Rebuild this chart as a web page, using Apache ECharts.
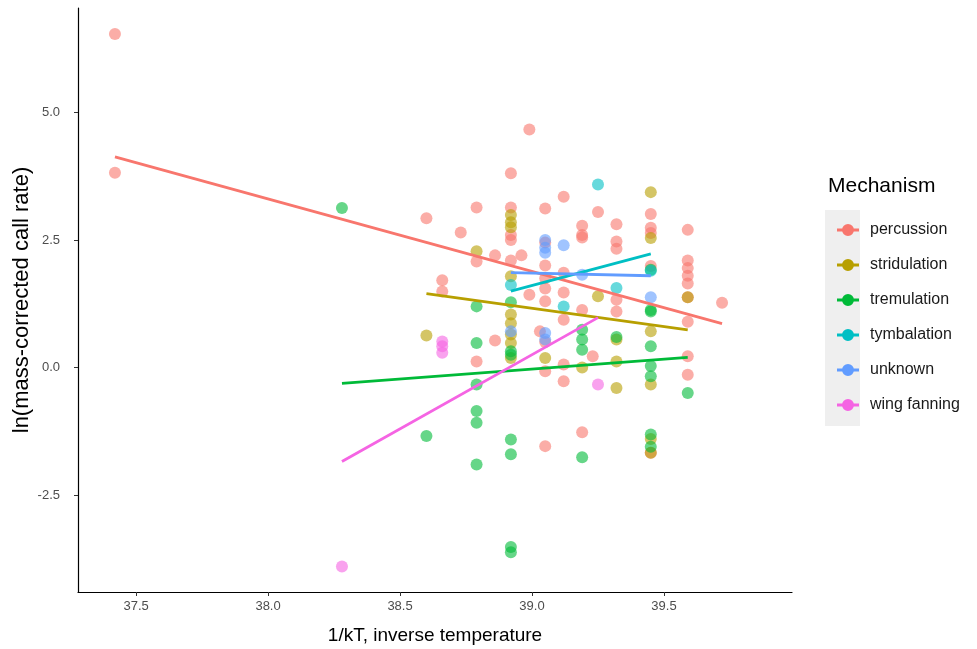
<!DOCTYPE html>
<html>
<head>
<meta charset="utf-8">
<script src="https://cdn.jsdelivr.net/npm/echarts@6/dist/echarts.min.js"></script>
<style>html,body{margin:0;padding:0;background:#fff}#c{width:977px;height:649px}</style>
</head>
<body>
<div id="c"></div>
<script>
const mechanisms = ['percussion','stridulation','tremulation','tymbalation','unknown','wing fanning'];
const colors = ['#F8766D','#B79F00','#00BA38','#00BFC4','#619CFF','#F564E3'];
const xTicks = [37.5, 38.0, 38.5, 39.0, 39.5];
const yTicks = [-2.5, 0.0, 2.5, 5.0];

const percussion = [[37.42,6.54],[37.42,3.82],[38.6,2.93],[38.66,1.71],[38.66,1.49],[38.73,2.65],
 [38.79,3.14],[38.79,2.08],[38.79,0.12],[38.86,2.2],[38.86,0.53],
 [38.92,3.81],[38.92,3.14],[38.92,2.5],[38.92,2.6],[38.92,2.1],[38.96,2.2],[38.99,4.67],[38.99,1.43],
 [39.03,0.71],[39.05,3.12],[39.05,2.45],[39.05,2.0],[39.05,1.75],[39.05,1.55],[39.05,1.3],[39.05,0.5],[39.05,-0.07],[39.05,-1.54],
 [39.12,3.35],[39.12,1.86],[39.12,1.47],[39.12,0.94],[39.12,0.06],[39.12,-0.27],
 [39.19,2.78],[39.19,2.6],[39.19,2.55],[39.19,1.13],[39.19,-1.27],[39.23,0.22],[39.25,3.05],
 [39.32,2.81],[39.32,2.47],[39.32,2.33],[39.32,1.33],[39.32,1.1],
 [39.45,3.01],[39.45,2.74],[39.45,2.64],[39.45,1.99],[39.45,-1.67],
 [39.59,2.7],[39.59,2.1],[39.59,1.95],[39.59,1.8],[39.59,1.65],[39.59,1.38],[39.59,0.9],[39.59,0.22],[39.59,-0.14],
 [39.72,1.27]];
const stridulation = [[38.6,0.63],[38.79,2.28],[38.92,2.99],[38.92,2.85],[38.92,2.75],[38.92,1.79],[38.92,1.04],
 [38.92,0.87],[38.92,0.65],[38.92,0.48],[38.92,0.19],[39.05,0.19],[39.19,0.0],[39.25,1.4],
 [39.32,0.55],[39.32,0.12],[39.32,-0.4],[39.45,3.44],[39.45,2.54],[39.45,0.71],[39.45,-0.33],[39.45,-1.4],[39.45,-1.67],[39.59,1.38]];
const tremulation = [[38.28,3.13],[38.6,-1.34],[38.79,1.2],[38.79,0.48],[38.79,-0.33],[38.79,-0.85],[38.79,-1.08],[38.79,-1.9],
 [38.92,1.28],[38.92,0.32],[38.92,0.25],[38.92,-1.41],[38.92,-1.7],[38.92,-3.52],[38.92,-3.62],
 [39.19,0.74],[39.19,0.55],[39.19,0.35],[39.19,-1.76],[39.32,0.6],
 [39.45,1.92],[39.45,1.13],[39.45,1.1],[39.45,0.42],[39.45,0.03],[39.45,-0.17],[39.45,-1.31],[39.45,-1.55],[39.59,-0.5]];
const tymbalation = [[38.92,1.62],[39.12,1.2],[39.25,3.59],[39.32,1.56],[39.45,1.9]];
const unknown = [[39.05,2.5],[39.05,2.35],[39.05,2.25],[39.12,2.4],[39.19,1.82],[39.45,1.38],[38.92,0.71],[39.05,0.68],[39.05,0.55]];
const wingFanning = [[38.28,-3.9],[38.66,0.51],[38.66,0.42],[38.66,0.29],[39.25,-0.33]];

const fitPercussion = [[37.42,4.13],[39.72,0.86]];
const fitStridulation = [[38.6,1.45],[39.59,0.74]];
const fitTremulation = [[38.28,-0.31],[39.59,0.2]];
const fitTymbalation = [[38.92,1.5],[39.45,2.23]];
const fitUnknown = [[38.92,1.86],[39.45,1.8]];
const fitWingFanning = [[38.28,-1.84],[39.25,0.98]];

const points = [percussion, stridulation, tremulation, tymbalation, unknown, wingFanning];
const fits = [fitPercussion, fitStridulation, fitTremulation, fitTymbalation, fitUnknown, fitWingFanning];

const FONT = 'Liberation Sans, Arial, sans-serif';
const legendIcon = 'path://M0,4.8 L22,4.8 L22,7.6 L0,7.6 Z M5,6.2 A6,6 0 1 1 17,6.2 A6,6 0 1 1 5,6.2 Z';

const series = [];
mechanisms.forEach((m, i) => {
  series.push({
    name: m, type: 'scatter', data: points[i], symbolSize: 12, z: 2,
    itemStyle: { color: colors[i], opacity: 0.6 }, emphasis: { disabled: true }
  });
});
mechanisms.forEach((m, i) => {
  series.push({
    name: m, type: 'line', data: fits[i], symbol: 'none', z: 5,
    lineStyle: { color: colors[i], width: 2.8 }, itemStyle: { color: colors[i] },
    emphasis: { disabled: true }
  });
});

const chart = echarts.init(document.getElementById('c'));
chart.setOption({
  animation: false,
  backgroundColor: '#fff',
  grid: { left: 78, right: 185, top: 8, bottom: 57, containLabel: false, outerBoundsMode: 'none' },
  xAxis: {
    type: 'value', min: 37.28, max: 39.985,
    name: '1/kT, inverse temperature', nameLocation: 'middle', nameGap: 34,
    nameTextStyle: { fontFamily: FONT, fontSize: 19, color: '#000' },
    splitLine: { show: false },
    axisLine: { onZero: false, lineStyle: { color: '#000', width: 1.2 } },
    axisTick: { show: true, length: 4, lineStyle: { color: '#333' }, customValues: xTicks },
    axisLabel: { fontFamily: FONT, fontSize: 13, color: '#4d4d4d', margin: 8, customValues: xTicks,
      formatter: v => v.toFixed(1) }
  },
  yAxis: {
    type: 'value', min: -4.4, max: 7.05,
    name: 'ln(mass-corrected call rate)', nameLocation: 'middle', nameGap: 45, nameMoveOverlap: false,
    nameTextStyle: { fontFamily: FONT, fontSize: 22, color: '#000' },
    splitLine: { show: false },
    axisLine: { show: true, onZero: false, lineStyle: { color: '#000', width: 1.2 } },
    axisTick: { show: true, length: 4, lineStyle: { color: '#333' }, customValues: yTicks },
    axisLabel: { fontFamily: FONT, fontSize: 13, color: '#4d4d4d', margin: 18, customValues: yTicks,
      formatter: v => v.toFixed(1) }
  },
  legend: {
    orient: 'vertical', left: 832, top: 217, itemWidth: 22, itemHeight: 13, itemGap: 19,
    icon: legendIcon, selectedMode: false,
    data: mechanisms.map((m, i) => ({ name: m, icon: legendIcon, itemStyle: { color: colors[i], opacity: 1 } })),
    textStyle: { fontFamily: FONT, fontSize: 16, color: '#1a1a1a', padding: [0, 0, 0, 6] }
  },
  graphic: [
    { type: 'rect', left: 825, top: 210, shape: { width: 35, height: 216 }, style: { fill: '#efefef' }, z: -1 },
    { type: 'text', left: 828, top: 176, style: { text: 'Mechanism', fontFamily: FONT, fontSize: 21, fill: '#000' } }
  ],
  series: series
});
</script>
</body>
</html>
